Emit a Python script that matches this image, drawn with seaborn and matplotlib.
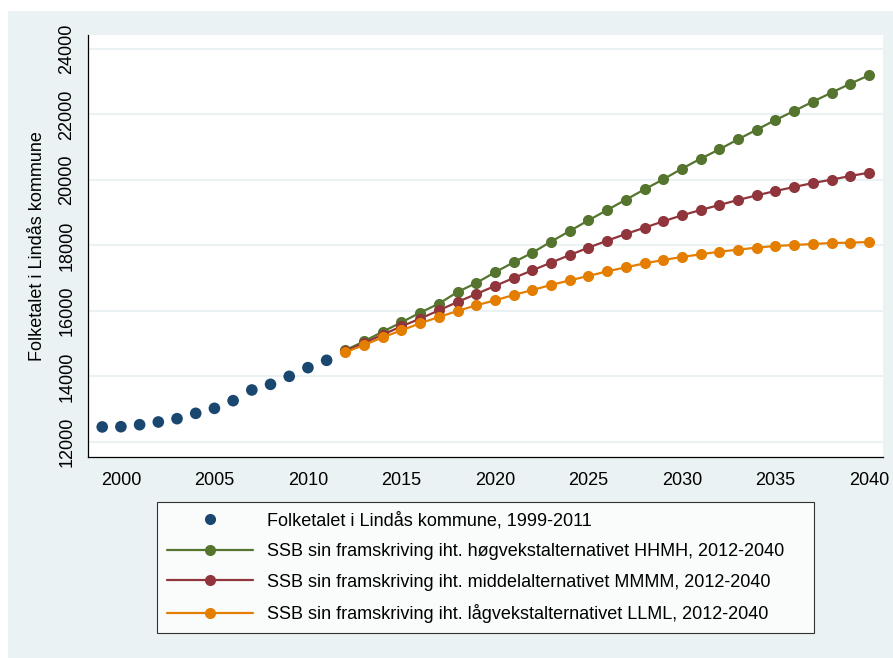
import matplotlib
matplotlib.use("Agg")
import matplotlib.pyplot as plt
from matplotlib.patches import Rectangle
import seaborn as sns
import pandas as pd

# observed population 1999-2011
hist_years = list(range(1999, 2012))
hist_pop = [12460, 12467, 12528, 12611, 12712, 12875, 13028,
            13262, 13588, 13761, 14005, 14270, 14494]

# SSB projections 2012-2040
proj_years = list(range(2012, 2041))
high = [14800, 15074, 15369, 15654, 15949, 16224, 16580, 16855, 17181, 17486,
        17781, 18117, 18443, 18768, 19084, 19399, 19715, 20020, 20346, 20651,
        20936, 21242, 21537, 21832, 22107, 22392, 22667, 22941, 23196]
middle = [14768, 15023, 15277, 15532, 15766, 16020, 16275, 16519, 16763, 17008,
          17242, 17476, 17710, 17934, 18148, 18351, 18544, 18738, 18921, 19084,
          19237, 19389, 19532, 19664, 19786, 19908, 20010, 20122, 20224]
low = [14740, 14962, 15196, 15410, 15623, 15817, 16000, 16173, 16326, 16488,
       16641, 16794, 16936, 17069, 17211, 17333, 17455, 17557, 17649, 17730,
       17812, 17873, 17934, 17985, 18015, 18046, 18076, 18086, 18107]

hist_label = "Folketalet i Lindås kommune, 1999-2011"
proj_labels = [
    "SSB sin framskriving iht. høgvekstalternativet HHMH, 2012-2040",
    "SSB sin framskriving iht. middelalternativet MMMM, 2012-2040",
    "SSB sin framskriving iht. lågvekstalternativet LLML, 2012-2040",
]
colors = ["#55752F", "#90353B", "#E37E00"]
navy = "#1A476F"
bg = "#EAF2F3"

hist_df = pd.DataFrame({"year": hist_years, "pop": hist_pop, "serie": hist_label})
proj_df = pd.concat([
    pd.DataFrame({"year": proj_years, "pop": vals, "serie": lab})
    for vals, lab in zip([high, middle, low], proj_labels)
])

sns.set_style("white")
plt.rcParams["font.family"] = ["Liberation Sans", "DejaVu Sans"]

fig = plt.figure(figsize=(8.93, 6.58), dpi=100, facecolor="white")
fig.patches.append(Rectangle((8 / 893, 0), 1, 1 - 11 / 658, transform=fig.transFigure,
                             facecolor=bg, edgecolor="none", zorder=-10))
ax = fig.add_axes([88 / 893, 1 - 457 / 658, 795 / 893, 422 / 658])
ax.set_facecolor("white")

sns.lineplot(data=proj_df, x="year", y="pop", hue="serie", palette=colors,
             marker="o", markersize=8, markeredgewidth=0, linewidth=1.6,
             ax=ax, legend=False, zorder=3)
sns.scatterplot(data=hist_df, x="year", y="pop", color=navy, s=70,
                edgecolor="none", ax=ax, legend=False, zorder=4)

ax.set_xlim(1998.24, 2040.75)
ax.set_ylim(11542, 24427)
ax.set_xticks(range(2000, 2041, 5))
ax.set_yticks(range(12000, 24001, 2000))
ax.grid(axis="y", color=bg, linewidth=1.5)
ax.set_axisbelow(True)
for s in ["top", "right"]:
    ax.spines[s].set_visible(False)
for s in ["left", "bottom"]:
    ax.spines[s].set_color("black")
    ax.spines[s].set_linewidth(0.9)
ax.tick_params(axis="both", direction="out", length=5, width=0.8,
               color="#444444", labelcolor="black", labelsize=13, pad=4)
ax.tick_params(axis="x", pad=6)
ax.tick_params(axis="y", labelrotation=90)
for t in ax.get_yticklabels():
    t.set_va("center")
ax.set_xlabel("")
ax.set_ylabel("Folketalet i Lindås kommune", fontsize=13, color="black", labelpad=9)

# legend
handles = [plt.Line2D([], [], linestyle="none", marker="o", markersize=8,
                      color=navy, markeredgewidth=0)]
for c in colors:
    handles.append(plt.Line2D([], [], color=c, linewidth=1.6, marker="o",
                              markersize=8, markeredgewidth=0))
leg = fig.legend(handles, [hist_label] + proj_labels, loc="upper left",
                 bbox_to_anchor=(157 / 893, 1 - 634 / 658, 657 / 893, 132 / 658),
                 mode="expand", fontsize=13, handlelength=4.76,
                 handletextpad=0.78, labelspacing=0.75, borderpad=0.55,
                 frameon=True, fancybox=False, borderaxespad=0)
leg.get_frame().set_edgecolor("black")
leg.get_frame().set_linewidth(0.8)
for t in leg.get_texts():
    t.set_color("black")

fig.savefig("out.png", dpi=100, facecolor="white")
